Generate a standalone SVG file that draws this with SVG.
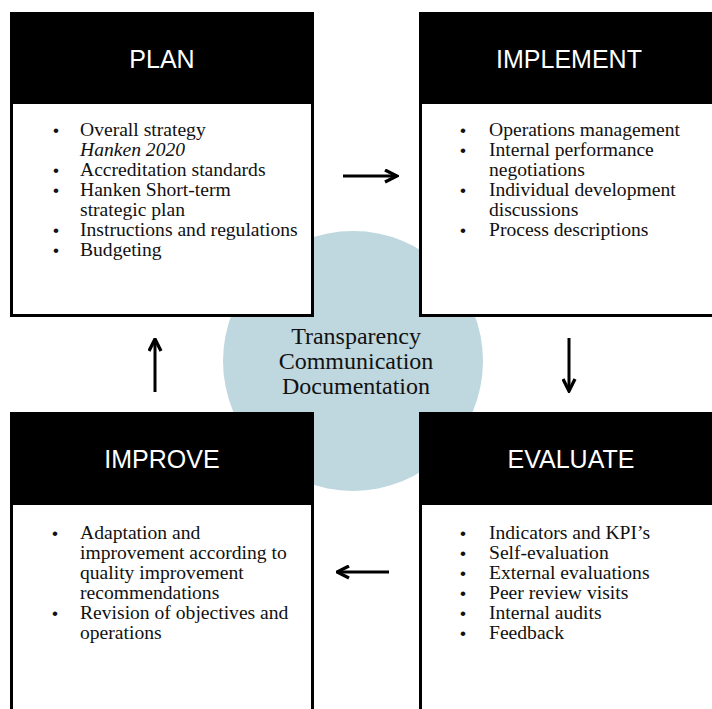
<svg xmlns="http://www.w3.org/2000/svg" width="712" height="709" viewBox="0 0 712 709">
<style>
.box{fill:#fff;stroke:#000;stroke-width:3}
.hdr{fill:#000}
.title{font-family:"Liberation Sans",Arial,sans-serif;font-size:25px;fill:#fff;text-anchor:middle}
.body{font-family:"Liberation Serif","Times New Roman",serif;font-size:19.6px;fill:#111}
.bul{font-family:"Liberation Sans",Arial,sans-serif;font-size:17px;fill:#111;text-anchor:middle}
.center{font-family:"Liberation Serif","Times New Roman",serif;font-size:24px;fill:#111;text-anchor:middle}
.arrow{fill:none;stroke:#000;stroke-width:3;marker-end:url(#head)}
</style>
<defs>
<marker id="head" viewBox="0 0 10 10" refX="9" refY="5" markerWidth="5" markerHeight="5" orient="auto" markerUnits="strokeWidth">
<path d="M1,1 L9,5 L1,9" fill="none" stroke="#000" stroke-width="2.2"/>
</marker>
</defs>
<rect width="712" height="709" fill="#fff"/>
<circle id="center" cx="353" cy="361" r="130" fill="#bfd7de"/>
<g id="plan">
<rect class="box" x="11.5" y="13.5" width="301" height="302"/>
<rect class="hdr" x="10" y="12" width="304" height="92"/>
<text class="title" x="162" y="68">PLAN</text>
<text class="bul" x="56" y="136">•</text>
<text class="body" x="80" y="136">Overall strategy</text>
<text class="body" x="80" y="156" font-style="italic">Hanken 2020</text>
<text class="bul" x="56" y="176">•</text>
<text class="body" x="80" y="176">Accreditation standards</text>
<text class="bul" x="56" y="196">•</text>
<text class="body" x="80" y="196">Hanken Short-term</text>
<text class="body" x="80" y="216">strategic plan</text>
<text class="bul" x="56" y="236">•</text>
<text class="body" x="80" y="236">Instructions and regulations</text>
<text class="bul" x="56" y="256">•</text>
<text class="body" x="80" y="256">Budgeting</text>
</g>
<g id="implement">
<rect class="box" x="420.5" y="13.5" width="310" height="302"/>
<rect class="hdr" x="419" y="12" width="300" height="92"/>
<text class="title" x="569" y="68">IMPLEMENT</text>
<text class="bul" x="463" y="136">•</text>
<text class="body" x="489" y="136">Operations management</text>
<text class="bul" x="463" y="156">•</text>
<text class="body" x="489" y="156">Internal performance</text>
<text class="body" x="489" y="176">negotiations</text>
<text class="bul" x="463" y="196">•</text>
<text class="body" x="489" y="196">Individual development</text>
<text class="body" x="489" y="216">discussions</text>
<text class="bul" x="463" y="236">•</text>
<text class="body" x="489" y="236">Process descriptions</text>
</g>
<g id="improve">
<rect class="box" x="11.5" y="413.5" width="301" height="310"/>
<rect class="hdr" x="10" y="412" width="304" height="93"/>
<text class="title" x="162" y="468">IMPROVE</text>
<text class="bul" x="55" y="539">•</text>
<text class="body" x="80" y="539">Adaptation and</text>
<text class="body" x="80" y="559">improvement according to</text>
<text class="body" x="80" y="579">quality improvement</text>
<text class="body" x="80" y="599">recommendations</text>
<text class="bul" x="55" y="619">•</text>
<text class="body" x="80" y="619">Revision of objectives and</text>
<text class="body" x="80" y="639">operations</text>
</g>
<g id="evaluate">
<rect class="box" x="420.5" y="413.5" width="310" height="310"/>
<rect class="hdr" x="419" y="412" width="300" height="93"/>
<text class="title" x="571" y="468">EVALUATE</text>
<text class="bul" x="463" y="539">•</text>
<text class="body" x="489" y="539">Indicators and KPI’s</text>
<text class="bul" x="463" y="559">•</text>
<text class="body" x="489" y="559">Self-evaluation</text>
<text class="bul" x="463" y="579">•</text>
<text class="body" x="489" y="579">External evaluations</text>
<text class="bul" x="463" y="599">•</text>
<text class="body" x="489" y="599">Peer review visits</text>
<text class="bul" x="463" y="619">•</text>
<text class="body" x="489" y="619">Internal audits</text>
<text class="bul" x="463" y="639">•</text>
<text class="body" x="489" y="639">Feedback</text>
</g>
<g id="center-label">
<text class="center" x="356" y="344">Transparency</text>
<text class="center" x="356" y="369">Communication</text>
<text class="center" x="356" y="394">Documentation</text>
</g>
<g id="connectors">
<line class="arrow" x1="343" y1="176" x2="397" y2="176"/>
<line class="arrow" x1="569" y1="338" x2="569" y2="391"/>
<line class="arrow" x1="389" y1="572" x2="337" y2="572"/>
<line class="arrow" x1="155" y1="392" x2="155" y2="339"/>
</g>
</svg>
